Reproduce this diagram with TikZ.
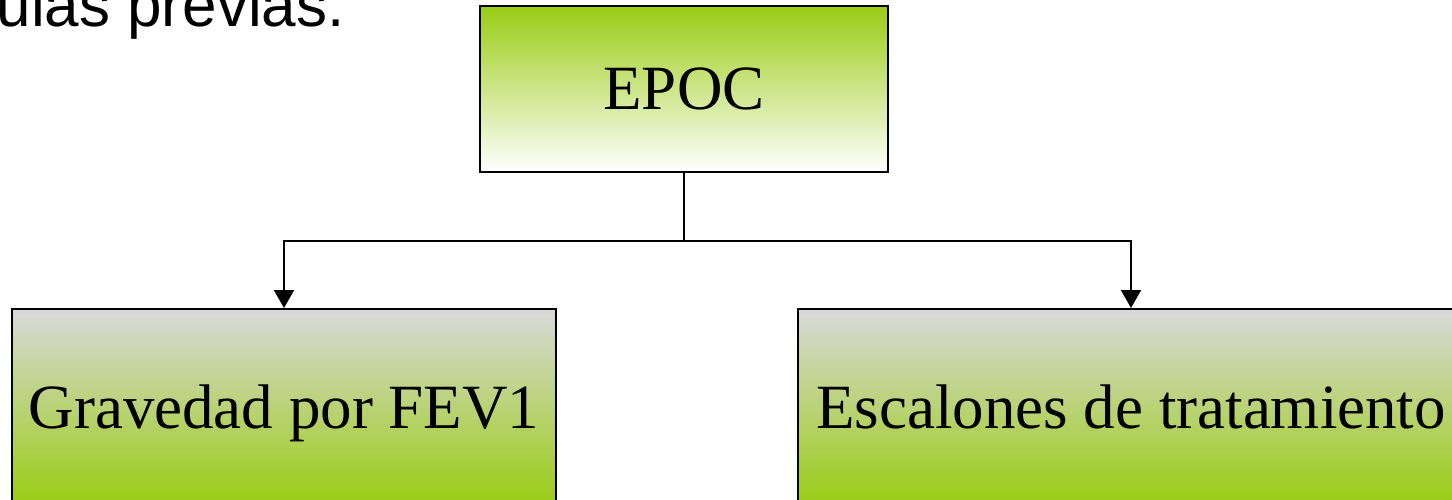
\documentclass[tikz,border=0pt]{standalone}
\usepackage{fontspec}
\setmainfont{Liberation Serif}
\newfontfamily\slidefont{Liberation Sans}
\usepackage{xcolor}
\usetikzlibrary{arrows.meta,calc,positioning}

\definecolor{leafgreen}{RGB}{154,204,20}
\definecolor{boxgray}{RGB}{217,217,217}

\begin{document}
\begin{tikzpicture}[x=0.5pt,y=0.5pt, arrow/.style = {line width=1pt,-{Triangle[width=10pt,length=9pt]}}]
		\tikzset{box/.style={draw=black,line width=1pt,rectangle,inner sep=0pt,align=center,text height=21pt,text depth=0pt,font=\fontsize{31.5}{36}\selectfont}}

		\useasboundingbox (0,0) rectangle (1452,499);
		\clip (0,0) rectangle (1452,499);

		% slide text
		\node[anchor=base east, inner sep=0pt, font=\slidefont\fontsize{31}{36}\selectfont] (slidetxt) at (345,472) {ulas previas.};

		% root
		\node[box, minimum width=204pt, minimum height=83pt, top color=leafgreen, bottom color=white] (epoc) at (684,410) {EPOC};

		% children
		\node[box, minimum width=272pt, minimum height=98pt, top color=boxgray, bottom color=leafgreen] (fev) at (284,92) {Gravedad por FEV1};

		\node[box, minimum width=333pt, minimum height=98pt, top color=boxgray, bottom color=leafgreen] (steps) at (1131,92) {Escalones de tratamiento};

		% Arrows
		\draw [arrow] (epoc.south) -- ++(0,-68) -| (fev.north);
		\draw [arrow] (epoc.south) -- ++(0,-68) -| (steps.north);

	\end{tikzpicture}
\end{document}
